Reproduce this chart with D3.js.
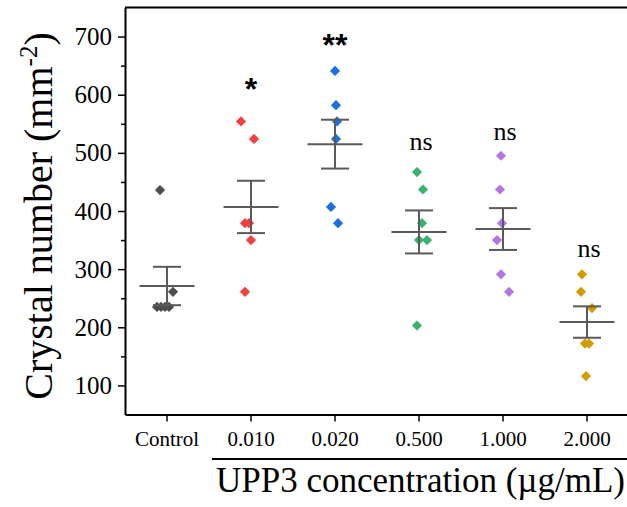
<!DOCTYPE html>
<html>
<head>
<meta charset="utf-8">
<script src="https://cdn.jsdelivr.net/npm/d3@7"></script>
<style>
    body { margin: 0; background: #fff; }
    svg { display: block; }
</style>
</head>
<body>
<div id="svg-area"></div>
<script>
// data
var groups = ["Control", "0.010", "0.020", "0.500", "1.000", "2.000"];
var colors = ["#4d4d4d", "#f04141", "#1b6fe0", "#3bb370", "#b476e4", "#d29c00"];

var values = [
    [436, 261, 235, 235, 235, 235],
    [554, 524, 379, 379, 350, 261],
    [641, 582, 554, 524, 407, 379],
    [467, 437, 379, 350, 350, 203],
    [495, 437, 379, 350, 291, 261],
    [291, 261, 233, 172, 172, 116]
];
// horizontal scatter of each point, in px from the group centre
var jitter = [
    [-7, 6, -10, -6, -2, 2],
    [-10, 3, -6, -2, 0, -6],
    [0, 1, 2, 1, -4, 3],
    [-2, 4, 3, 0, 8, -2],
    [-2, -3, -1, -6, -2, 6],
    [-5, -6, 5, -2, 2, -1]
];

var means = [271, 407, 515, 364, 369, 209];
var sems = [33, 45, 42, 37, 36, 27];

var marks = ["", "*", "**", "ns", "ns", "ns"];
var markLevel = [0, 591, 666, 505, 522, 321];

var yMajor = [100, 200, 300, 400, 500, 600, 700];
var yMinor = [150, 250, 350, 450, 550, 650];

var svgWidth = 627;
var svgHeight = 507;

var svg = d3.select("#svg-area")
    .append("svg")
    .attr("width", svgWidth)
    .attr("height", svgHeight)
    .style("font-family", "'Liberation Serif', 'Times New Roman', serif")
;

var x = d3.scaleBand()
    .domain(groups)
    .range([125, 629])
;

var y = d3.scaleLinear()
    .domain([50, 750])
    .range([414.5, 7.5])
;

var cx = function(i) { return x(groups[i]) + x.bandwidth() / 2; };

// minor y ticks
svg.append("g")
    .attr("transform", "translate(125,0)")
    .call(d3.axisLeft(y).tickValues(yMinor).tickSize(4).tickFormat(""))
    .call(g => g.select(".domain").remove())
    .call(g => g.selectAll("line").attr("stroke-width", 1.5))
;

// y axis
var yAxis = svg.append("g")
    .attr("transform", "translate(125,0)")
    .call(d3.axisLeft(y).tickValues(yMajor).tickSize(7).tickSizeOuter(0).tickPadding(6))
;
yAxis.select(".domain").attr("stroke-width", 2);
yAxis.selectAll("line").attr("stroke-width", 1.5);
yAxis.selectAll("text")
    .attr("font-size", 25)
    .attr("font-family", "'Liberation Serif', serif")
    .attr("fill", "#000");

// x axis
var xAxis = svg.append("g")
    .attr("transform", "translate(0,414.5)")
    .call(d3.axisBottom(x).tickSize(7).tickSizeOuter(0).tickPadding(10))
;
xAxis.select(".domain").attr("stroke-width", 2);
xAxis.selectAll("line").attr("stroke-width", 1.5);
xAxis.selectAll("text")
    .attr("font-size", 21)
    .attr("font-family", "'Liberation Serif', serif")
    .attr("fill", "#000");

// top frame line
svg.append("line")
    .attr("x1", 125).attr("x2", 629)
    .attr("y1", y(750)).attr("y2", y(750))
    .attr("stroke", "#000")
    .attr("stroke-width", 2)
;

// points
values.forEach(function(vals, i) {
    svg.append("g")
        .selectAll("path")
        .data(vals)
        .enter()
        .append("path")
        .attr("d", d3.symbol(d3.symbolSquare, 52))
        .attr("transform", (d, j) => `translate(${cx(i) + jitter[i][j]},${y(d)}) rotate(45)`)
        .attr("fill", colors[i])
    ;
});

// mean and SEM bars
var bars = svg.append("g")
    .selectAll("g")
    .data(means)
    .enter()
    .append("g")
    .attr("stroke", "#5a5a5a")
    .attr("stroke-width", 2)
;
bars.append("line")
    .attr("x1", (d, i) => cx(i)).attr("x2", (d, i) => cx(i))
    .attr("y1", (d, i) => y(d + sems[i])).attr("y2", (d, i) => y(d - sems[i]));
bars.append("line")
    .attr("x1", (d, i) => cx(i) - 27.5).attr("x2", (d, i) => cx(i) + 27.5)
    .attr("y1", d => y(d)).attr("y2", d => y(d));
bars.append("line")
    .attr("x1", (d, i) => cx(i) - 14).attr("x2", (d, i) => cx(i) + 14)
    .attr("y1", (d, i) => y(d + sems[i])).attr("y2", (d, i) => y(d + sems[i]));
bars.append("line")
    .attr("x1", (d, i) => cx(i) - 14).attr("x2", (d, i) => cx(i) + 14)
    .attr("y1", (d, i) => y(d - sems[i])).attr("y2", (d, i) => y(d - sems[i]));

// significance labels
marks.forEach(function(m, i) {
    if (!m) return;
    var star = m.indexOf("*") >= 0;
    svg.append("text")
        .attr("x", cx(i) + (star ? 0 : 2))
        .attr("y", y(markLevel[i]))
        .attr("text-anchor", "middle")
        .attr("font-size", star ? 32 : 26)
        .attr("font-weight", star ? "bold" : "normal")
        .attr("font-family", star ? "'Liberation Sans', Arial, sans-serif" : "'Liberation Serif', serif")
        .text(m)
    ;
});

// x title with underline
svg.append("line")
    .attr("x1", 212).attr("x2", 627)
    .attr("y1", 459).attr("y2", 459)
    .attr("stroke", "#000")
    .attr("stroke-width", 2)
;
svg.append("text")
    .attr("x", 625)
    .attr("y", 492)
    .attr("text-anchor", "end")
    .attr("font-size", 35)
    .text("UPP3 concentration (\u00b5g/mL)")
;

// y title
var yTitle = svg.append("text")
    .attr("transform", "translate(52,216) rotate(-90)")
    .attr("text-anchor", "middle")
    .attr("font-size", 40)
;
yTitle.append("tspan").text("Crystal number (mm");
yTitle.append("tspan").attr("font-size", 25).attr("dy", "-0.6em").text("-2");
yTitle.append("tspan").attr("dy", "0.375em").text(")");
</script>
</body>
</html>
